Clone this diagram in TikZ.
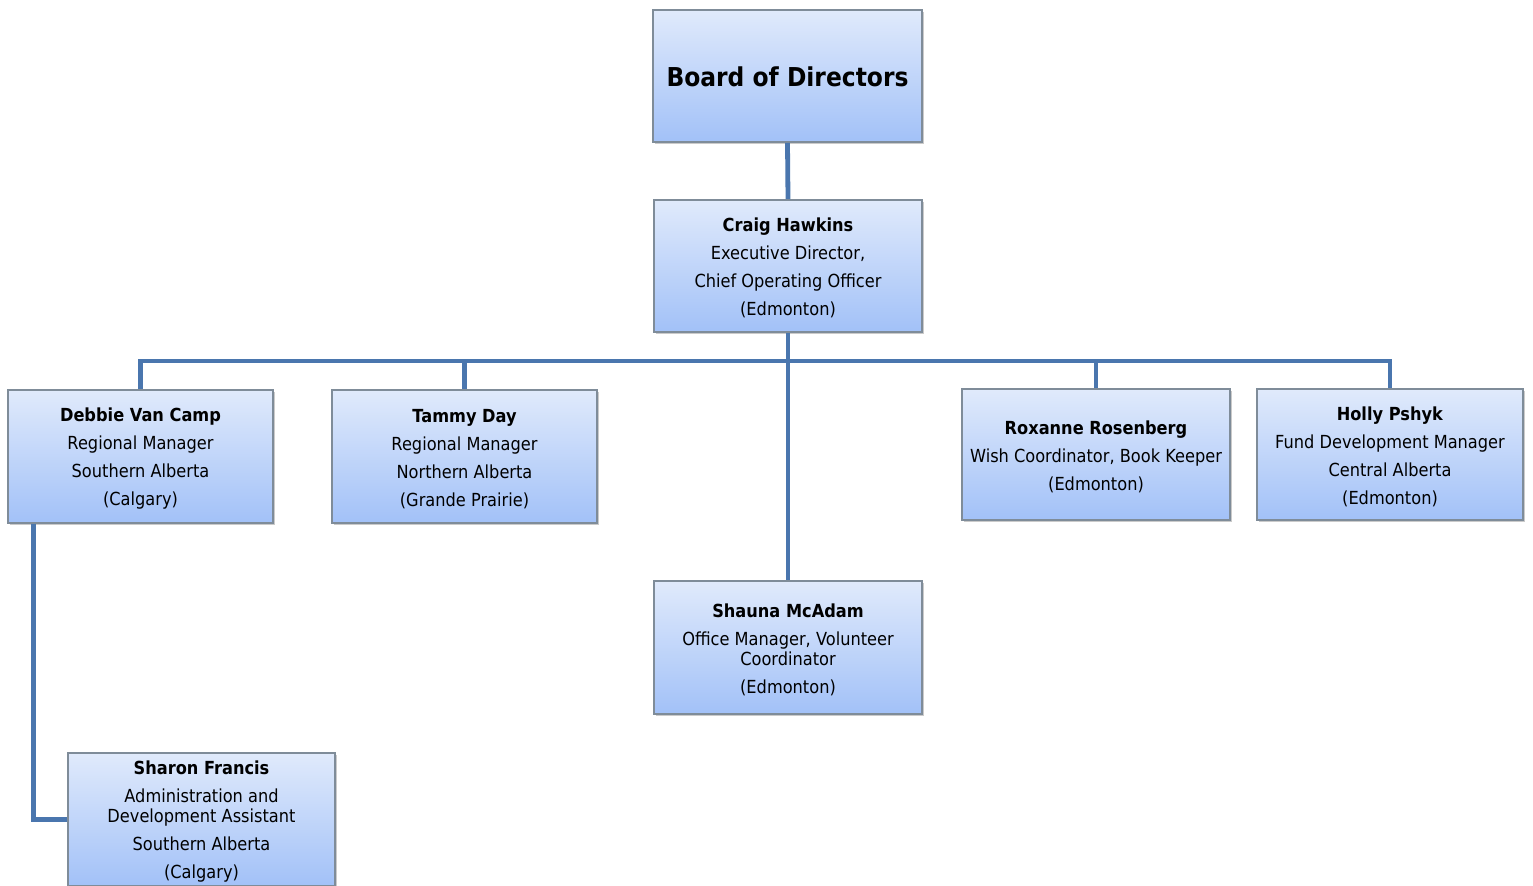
\documentclass[tikz,border=0pt]{standalone}
\usepackage{fontspec}
\setmainfont{DejaVu Sans}[FakeStretch=0.9]
\usetikzlibrary{shadows,calc}
\definecolor{topblue}{HTML}{E0EAFB}
\definecolor{botblue}{HTML}{A2C1F8}
\definecolor{boxline}{HTML}{7F8C99}
\definecolor{conn}{HTML}{4A76AE}
\tikzset{
  orgbox/.style={draw=boxline, line width=0.8pt, top color=topblue, bottom color=botblue,
    align=center, inner sep=0pt, font=\fontsize{9}{10}\selectfont,
    drop shadow={shadow xshift=1.2pt, shadow yshift=-1.2pt, opacity=0.35, fill=black!60}},
  conline/.style={draw=conn, line width=2.4pt},
}
\newcommand{\gap}{\\[4pt]}
\newcommand{\nm}[1]{\rule{0pt}{9pt}\textbf{#1}}
\begin{document}
\begin{tikzpicture}[x=0.5pt,y=-0.5pt]
\useasboundingbox (0,0) rectangle (1533,886);
\node[orgbox, minimum width=134.5pt, minimum height=66pt, font=\fontsize{13}{15}\selectfont\bfseries] (board) at (787.5,76) {\rule{0pt}{11pt}Board of Directors};
\node[orgbox, minimum width=134pt, minimum height=66pt] (craig) at (788,266)
  {\nm{Craig Hawkins}\gap Executive Director,\gap Chief Operating Officer\gap (Edmonton)};
\node[orgbox, minimum width=132.5pt, minimum height=66.5pt] (debbie) at (140.5,456.5)
  {\nm{Debbie Van Camp}\gap Regional Manager\gap Southern Alberta\gap (Calgary)};
\node[orgbox, minimum width=132.5pt, minimum height=66.5pt] (tammy) at (464.5,456.5)
  {\nm{Tammy Day}\gap Regional Manager\gap Northern Alberta\gap (Grande Prairie)};
\node[orgbox, minimum width=134pt, minimum height=65.5pt] (roxanne) at (1096,454.5)
  {\nm{Roxanne Rosenberg}\gap Wish Coordinator, Book Keeper\gap (Edmonton)};
\node[orgbox, minimum width=133pt, minimum height=65.5pt] (holly) at (1390,454.5)
  {\nm{Holly Pshyk}\gap Fund Development Manager\gap Central Alberta\gap (Edmonton)};
\node[orgbox, minimum width=134pt, minimum height=66.5pt] (shauna) at (788,647.5)
  {\nm{Shauna McAdam}\gap Office Manager, Volunteer\\ Coordinator\gap (Edmonton)};
\node[orgbox, minimum width=133.5pt, minimum height=66.5pt] (sharon) at (201.5,819.5)
  {\nm{Sharon Francis}\gap Administration and\\ Development Assistant\gap Southern Alberta\gap (Calgary)};
\coordinate (bus) at (788,361);
\draw[conline] (board.south) -- (craig.north);
\draw[conline] (craig.south) -- (shauna.north);
\draw[conline] (debbie.north) |- (bus) -| (holly.north);
\draw[conline] (tammy.north) -- (tammy.north |- bus);
\draw[conline] (roxanne.north) -- (roxanne.north |- bus);
\coordinate (dsrc) at ($(debbie.south west)+(26,0)$);
\draw[conline] (dsrc) |- (sharon.west);
\end{tikzpicture}
\end{document}
